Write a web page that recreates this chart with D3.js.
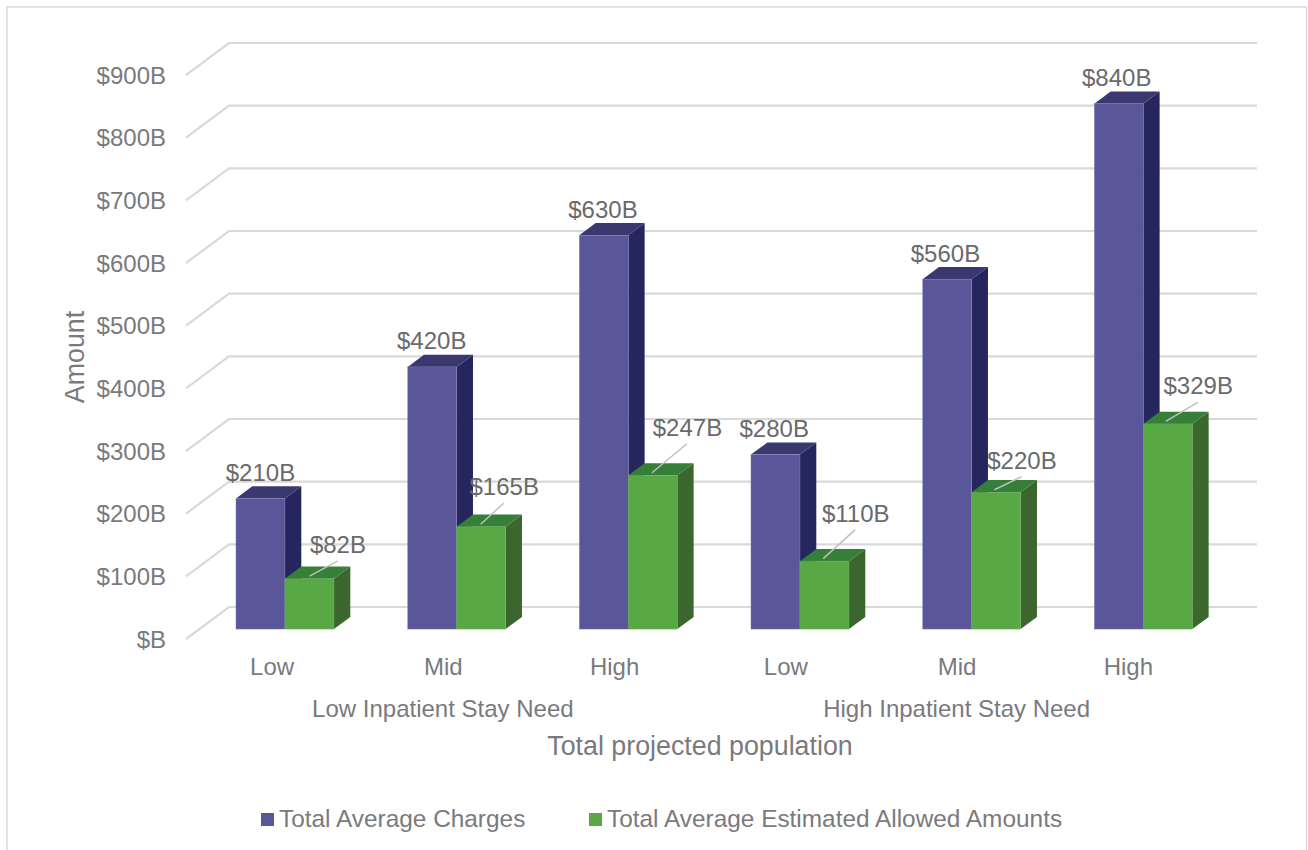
<!DOCTYPE html>
<html>

<head>
    <title>Total projected population</title>
    <script src="https://d3js.org/d3.v7.min.js"></script>
</head>

<body style="margin: 0; padding: 0; background: #fff;">
    <div id="container"></div>

    <script>
        var groups = ["Low Inpatient Stay Need", "High Inpatient Stay Need"];
        var levels = ["Low", "Mid", "High", "Low", "Mid", "High"];
        var seriesNames = ["Total Average Charges", "Total Average Estimated Allowed Amounts"];
        var charges = [210, 420, 630, 280, 560, 840];
        var allowed = [82, 165, 247, 110, 220, 329];
        var ticks = [0, 100, 200, 300, 400, 500, 600, 700, 800, 900];

        var width = 1308, height = 850;
        var font = "'Liberation Sans', Arial, sans-serif";

        // depth of the 3D floor, in pixels
        var depthX = 43, depthY = 32;
        var barDepthFrom = 0.31, barDepthTo = 0.69;

        var x = d3.scaleBand().domain(d3.range(levels.length)).range([185.8, 1215.8]);
        // the text sits on a slightly tighter step than the bars
        var labelX = d3.scaleBand().domain(d3.range(levels.length)).range([185.5, 1213]);
        var y = d3.scaleLinear().domain([0, 900]).range([639, 75]);
        var barX = d3.scaleBand().domain([0, 1]).range([-49, 49]);

        var colors = [
            { front: "#59569a", top: "#3b3870", side: "#26265e", edge: "#8d8bc0" },
            { front: "#58a846", top: "#367f38", side: "#3b662e", edge: "#6fb55c" }
        ];

        var svg = d3.select("#container").append("svg")
            .attr("width", width)
            .attr("height", height)
            .style("display", "block")
            .style("font-family", font);

        // frame
        svg.append("path")
            .attr("d", "M7,850V7H1306.5V850")
            .attr("fill", "none")
            .attr("stroke", "#d9d9d9")
            .attr("stroke-width", 1.5);

        // gridlines
        svg.append("g").selectAll("polyline")
            .data(ticks)
            .enter().append("polyline")
            .attr("points", function (d) {
                return [[186, y(d)], [186 + depthX, y(d) - depthY], [1257, y(d) - depthY]].join(" ");
            })
            .attr("fill", "none")
            .attr("stroke", "#d9d9d9")
            .attr("stroke-width", 2.2);

        // y tick labels
        svg.append("g").selectAll("text")
            .data(ticks)
            .enter().append("text")
            .attr("x", 166)
            .attr("y", d => y(d) + 8.5)
            .attr("text-anchor", "end")
            .attr("font-size", 24)
            .attr("fill", "#7a7a7e")
            .text(d => d === 0 ? "$B" : "$" + d + "B");

        function drawBar(g, value, i, s) {
            var c = colors[s];
            var x0 = x(i) + x.bandwidth() / 2 + depthX * barDepthFrom + barX(s);
            var x1 = x0 + barX.bandwidth();
            var yb = y(0) - depthY * barDepthFrom;
            var yt = y(value) - depthY * barDepthFrom + 1;
            var dx = depthX * (barDepthTo - barDepthFrom);
            var dy = depthY * (barDepthTo - barDepthFrom);

            g.append("polygon")
                .attr("points", [[x1, yt], [x1 + dx, yt - dy], [x1 + dx, yb - dy], [x1, yb]].join(" "))
                .attr("fill", c.side);
            g.append("polygon")
                .attr("points", [[x0, yt], [x0 + dx, yt - dy], [x1 + dx, yt - dy], [x1, yt]].join(" "))
                .attr("fill", c.top);
            g.append("rect")
                .attr("x", x0)
                .attr("y", yt)
                .attr("width", x1 - x0)
                .attr("height", yb - yt)
                .attr("fill", c.front)
                .attr("stroke", c.edge)
                .attr("stroke-width", 0.4);
        }

        // bars, the back to front order is just left to right
        var bars = svg.append("g");
        levels.forEach(function (l, i) {
            drawBar(bars, charges[i], i, 0);
            drawBar(bars, allowed[i], i, 1);
        });

        var labelStyle = function (t) {
            t.attr("text-anchor", "middle")
                .attr("font-size", 24)
                .attr("fill", "#6a6a6a");
        };

        // labels on the charges bars
        svg.append("g").selectAll("text")
            .data(charges)
            .enter().append("text")
            .attr("x", (d, i) => labelX(i) + labelX.bandwidth() / 2 + depthX * barDepthFrom + barX(0) + 25)
            .attr("y", d => y(d) - depthY * barDepthFrom - 16.5)
            .call(labelStyle)
            .text(d => "$" + d + "B");

        // labels on the allowed bars were dragged away by hand, with leader lines
        var leaderDx = [28, 23, 35, 32, 27, 32];
        var leaderDy = [15, 21, 29, 29, 13, 19];
        var allowedLabels = svg.append("g");
        allowed.forEach(function (d, i) {
            var lx = labelX(i) + labelX.bandwidth() / 2 + depthX * barDepthFrom + barX(1) + 25;
            var ly = y(d) - depthY * barDepthFrom - 1.5;
            allowedLabels.append("line")
                .attr("x1", lx)
                .attr("y1", ly)
                .attr("x2", lx + leaderDx[i])
                .attr("y2", ly - leaderDy[i])
                .attr("stroke", "#bfbfbf")
                .attr("stroke-width", 1.5);
            allowedLabels.append("text")
                .attr("x", lx + leaderDx[i] + 0.5)
                .attr("y", ly - leaderDy[i] - 8)
                .call(labelStyle)
                .text("$" + d + "B");
        });

        // category axis, two levels
        svg.append("g").selectAll("text")
            .data(levels)
            .enter().append("text")
            .attr("x", (d, i) => labelX(i) + labelX.bandwidth() / 2 + 1)
            .attr("y", 675)
            .attr("text-anchor", "middle")
            .attr("font-size", 24)
            .attr("fill", "#7a7a7e")
            .text(d => d);

        svg.append("g").selectAll("text")
            .data(groups)
            .enter().append("text")
            .attr("x", (d, i) => labelX(i * 3 + 1) + labelX.bandwidth() / 2 + 0.5)
            .attr("y", 717)
            .attr("text-anchor", "middle")
            .attr("font-size", 24)
            .attr("fill", "#7a7a7e")
            .text(d => d);

        // axis titles
        svg.append("text")
            .attr("x", 700)
            .attr("y", 755)
            .attr("text-anchor", "middle")
            .attr("font-size", 26.8)
            .attr("fill", "#7a7a7e")
            .text("Total projected population");

        svg.append("text")
            .attr("transform", "translate(83.5,357) rotate(-90)")
            .attr("text-anchor", "middle")
            .attr("font-size", 26.8)
            .attr("fill", "#7a7a7e")
            .text("Amount");

        // legend
        var legendX = [261, 589];
        var legend = svg.append("g").selectAll("g")
            .data(seriesNames)
            .enter().append("g")
            .attr("transform", (d, i) => `translate(${legendX[i]},813)`);
        legend.append("rect")
            .attr("width", 13)
            .attr("height", 13)
            .attr("fill", (d, i) => colors[i].front);
        legend.append("text")
            .attr("x", 18)
            .attr("y", 14)
            .attr("font-size", 24.4)
            .attr("fill", "#7a7a7e")
            .text(d => d);
    </script>
</body>

</html>
